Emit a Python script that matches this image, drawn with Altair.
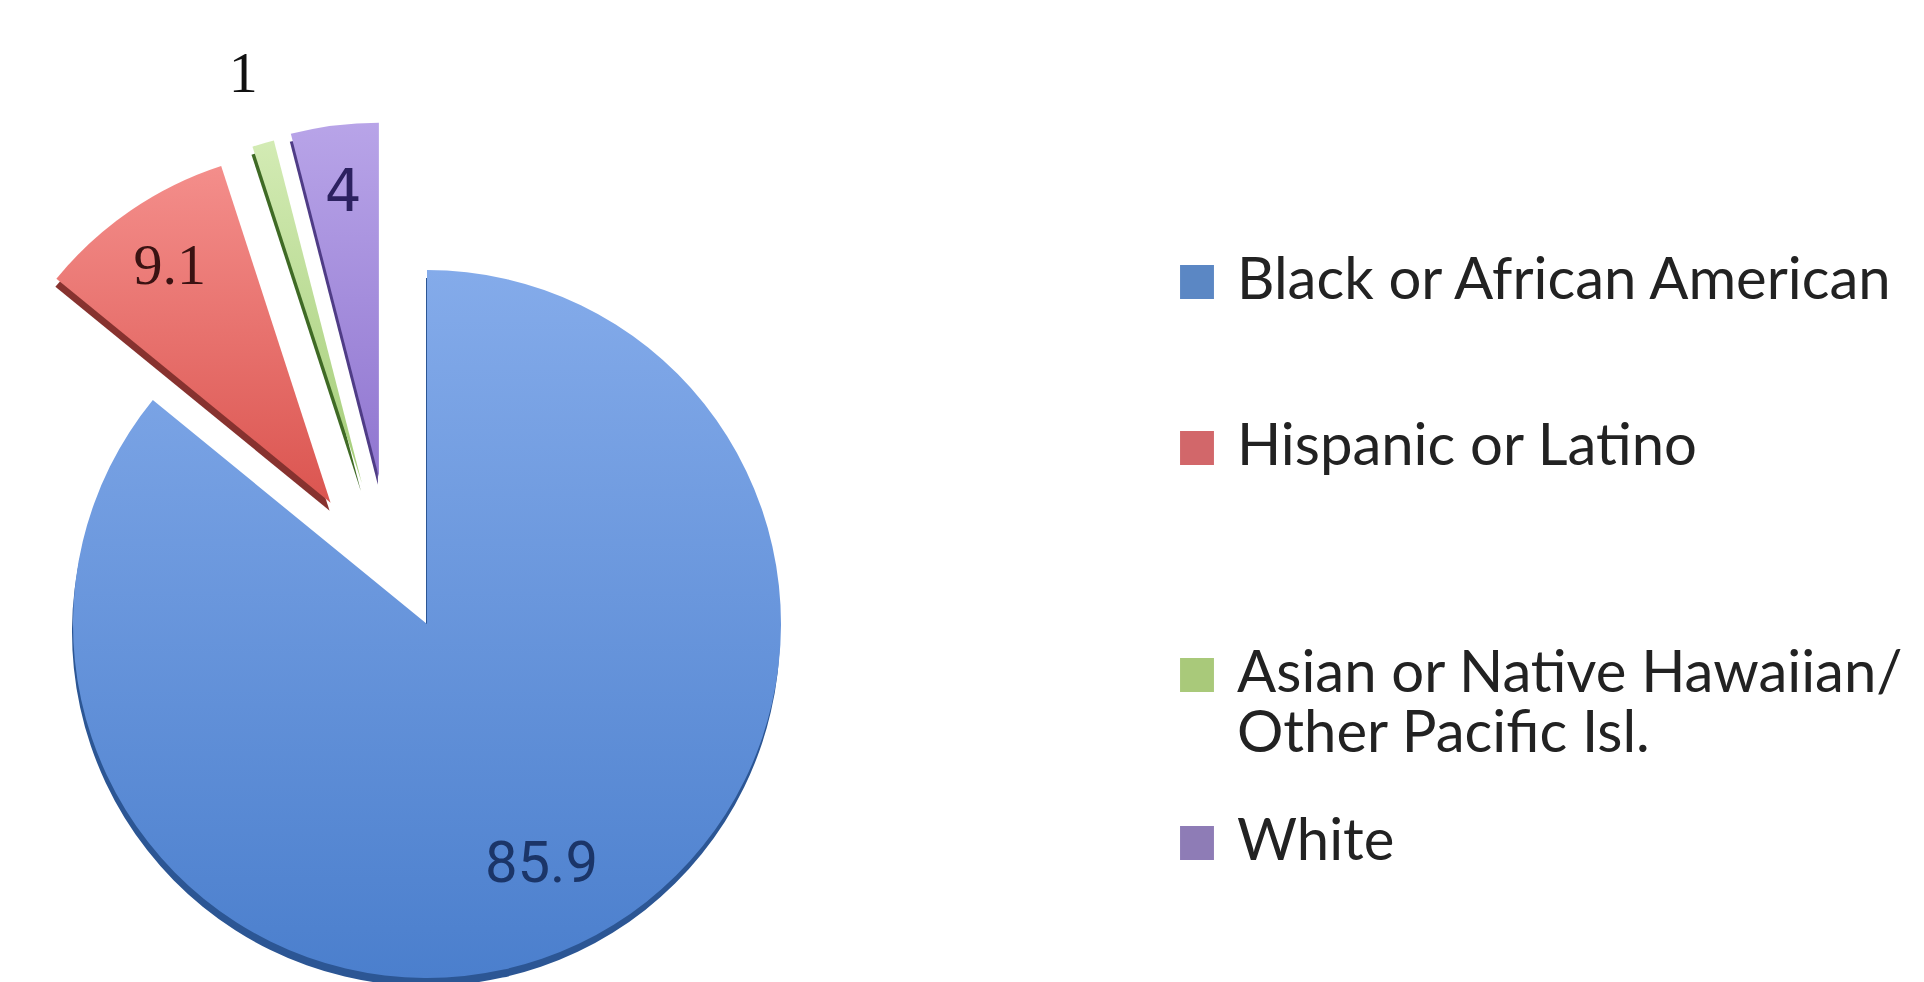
import altair as alt
import pandas as pd

categories = ["Black or African American", "Hispanic or Latino",
              "Asian or Native Hawaiian/Other Pacific Isl.", "White"]
values = [85.9, 9.1, 1, 4]
grad_top = ["#84abea", "#f48e8b", "#d3ebb4", "#b8a4e8"]
grad_bottom = ["#4b7fcd", "#db5550", "#a4cd78", "#9076d0"]
shadow_colors = ["#2c5694", "#87322f", "#3f6a25", "#4f3c86"]
legend_colors = ["#5b87c4", "#d2676a", "#a9c97a", "#8e7cb6"]
label_colors = ["#1b3568", "#3a1212", "#111111", "#2c2160"]

df = pd.DataFrame({"category": categories, "value": values, "order": list(range(len(values)))})

CX, CY, R = 427, 624, 354
EXPLODE = 155
first_frac = values[0] / sum(values)

base = (
    alt.Chart(df)
    .transform_window(cum="sum(value)", sort=[alt.SortField("order")], frame=[None, 0])
    .transform_joinaggregate(total="sum(value)")
    .transform_calculate(
        end="2*PI*datum.cum/datum.total",
        start="2*PI*(datum.cum-datum.value)/datum.total",
    )
    .transform_calculate(mid="(datum.start+datum.end)/2")
    .transform_calculate(
        ex=f"datum.order == 0 ? 0 : {EXPLODE}",
        dir=f"0.75*datum.mid + 0.25*2*PI*{first_frac}",
        lr="datum.order == 0 ? 267 : (datum.order == 2 ? 425 : 285)",
    )
    .transform_calculate(
        cx=f"{CX} + datum.ex*sin(datum.dir)",
        cy=f"{CY} - datum.ex*cos(datum.dir)",
    )
    .transform_calculate(sx="datum.cx - 1", sy="datum.cy + 8")
)

shadow = base.mark_arc(radius=R).encode(
    theta=alt.Theta("start:Q", scale=None),
    theta2="end:Q",
    x=alt.X("sx:Q", scale=None, axis=None),
    y=alt.Y("sy:Q", scale=None, axis=None),
    color=alt.Color("category:N", scale=alt.Scale(domain=categories, range=shadow_colors), legend=None),
)


def slice_layer(i):
    grad = alt.LinearGradient(
        gradient="linear",
        stops=[alt.GradientStop(color=grad_top[i], offset=0),
               alt.GradientStop(color=grad_bottom[i], offset=1)],
        x1=0, x2=0, y1=0, y2=1,
    )
    return base.transform_filter(f"datum.order == {i}").mark_arc(radius=R, color=grad).encode(
        theta=alt.Theta("start:Q", scale=None),
        theta2="end:Q",
        x=alt.X("cx:Q", scale=None, axis=None),
        y=alt.Y("cy:Q", scale=None, axis=None),
    )


label_expr = ("indexof(datum.label,'/')>0 ? [substring(datum.label,0,indexof(datum.label,'/')+1), "
              "substring(datum.label,indexof(datum.label,'/')+1)] : datum.label")


def legend_layer(vals, lx, ly, pad):
    return alt.Chart(df).transform_filter("false").mark_square(filled=True, opacity=1).encode(
        color=alt.Color(
            "category:N",
            scale=alt.Scale(domain=categories, range=legend_colors),
            legend=alt.Legend(
                title=None,
                values=vals,
                orient="none",
                legendX=lx,
                legendY=ly,
                symbolType="square",
                symbolSize=1150,
                symbolStrokeWidth=0,
                symbolOpacity=1,
                labelFont="Lato",
                labelFontSize=58,
                labelColor="#222222",
                labelLimit=0,
                labelOffset=11,
                rowPadding=pad,
                labelExpr=label_expr,
            ),
        )
    )


def label_layer(order, font, color):
    return base.transform_filter(f"datum.order == {order}").mark_text(
        font=font, fontSize=58, color=color, align="center", baseline="middle"
    ).encode(
        x=alt.X("cx:Q", scale=None, axis=None),
        y=alt.Y("cy:Q", scale=None, axis=None),
        theta=alt.Theta("mid:Q", scale=None),
        radius=alt.Radius("lr:Q", scale=None),
        text=alt.Text("value:Q"),
    )


layers = [shadow] + [slice_layer(i) for i in range(4)] + [
    label_layer(0, "Roboto", label_colors[0]),
    label_layer(1, "Liberation Serif", label_colors[1]),
    label_layer(2, "Liberation Serif", label_colors[2]),
    label_layer(3, "DejaVu Sans", label_colors[3]),
    legend_layer(categories[:2], 1168, 253, 108),
    legend_layer(categories[2:], 1168, 646, 50),
]

chart = (
    alt.layer(*layers)
    .resolve_scale(color="independent")
    .properties(width=1924, height=982, autosize=alt.AutoSizeParams(type="none"), padding=0, background="white")
    .configure_view(stroke=None)
)

chart.save("out.html", embed_options={"renderer": "svg", "actions": False})
